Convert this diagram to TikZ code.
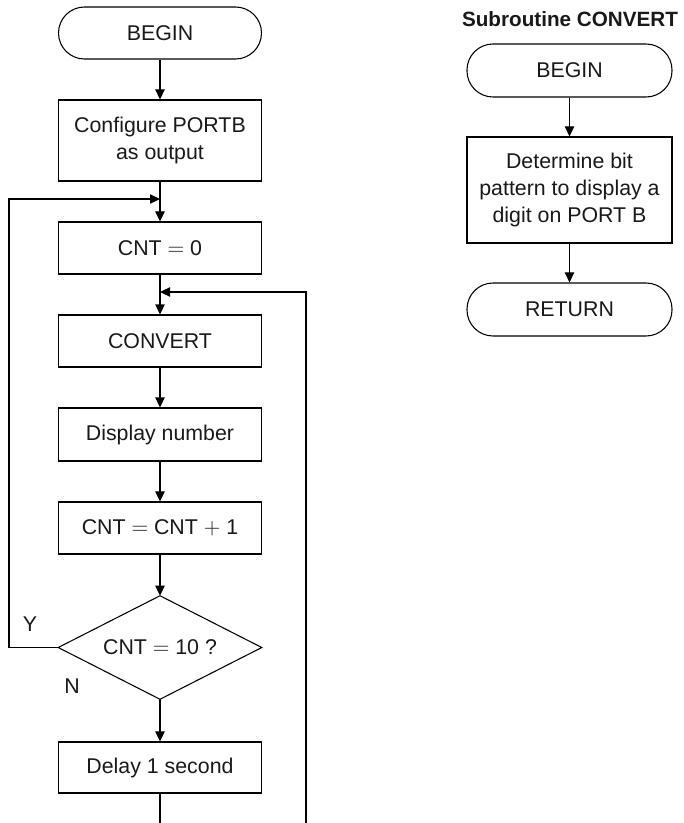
\documentclass[tikz,border=0pt]{standalone}
\usepackage{fontspec}
\setmainfont{Liberation Sans}
\usetikzlibrary{arrows.meta}
\begin{document}
\begin{tikzpicture}[x=0.75pt,y=-0.75pt,
  every node/.style={font=\fontsize{16}{20}\selectfont, text=black!90},
  term/.style={draw, line width=0.8pt, rounded corners=19.5pt, minimum width=152.25pt, minimum height=39pt, inner sep=0pt},
  proc/.style={draw, line width=0.8pt, minimum width=152.25pt, inner sep=0pt, align=center},
  flow/.style={line width=0.8pt, -{Triangle[length=7.5pt,width=7pt]}},
  plain/.style={line width=0.8pt}
]
\useasboundingbox (0,0) rectangle (684,823);
% main flow
\node[term] (begin) at (160,33) {BEGIN};
\node[proc, minimum height=60.75pt] (config) at (160,140.5) {Configure PORTB\\as output};
\node[proc, minimum height=39pt] (cnt0) at (160,248) {CNT $=$ 0};
\node[proc, minimum height=39pt] (convert) at (160,341) {CONVERT};
\node[proc, minimum height=39.75pt] (display) at (160,434.5) {Display number};
\node[proc, minimum height=39pt] (inc) at (160,528) {CNT $=$ CNT $+$ 1};
\node[minimum width=152.25pt, minimum height=77.25pt, inner sep=0pt] (dec) at (160,647.5) {CNT $=$ 10 ?};
\draw[plain] (dec.north) -- (dec.east) -- (dec.south) -- (dec.west) -- cycle;
\node[proc, minimum height=38.25pt] (delay) at (160,767.5) {Delay 1 second};
\node (ylab) at (30,624) {Y};
\node (nlab) at (72,686) {N};
\coordinate (m1) at (160,199);
\coordinate (m2) at (160,292);
\coordinate (bot) at (160,823);
\coordinate (botr) at (306,823);
\coordinate (lx) at (9,647.5);

\draw[flow] (begin) -- (config);
\draw[flow] (config) -- (cnt0);
\draw[flow] (cnt0) -- (convert);
\draw[flow] (convert) -- (display);
\draw[flow] (display) -- (inc);
\draw[flow] (inc) -- (dec.north);
\draw[flow] (dec.south) -- (delay);
\draw[plain] (delay) -- (bot);
\draw[flow] (dec.west) -- (lx) |- (m1);
\draw[flow] (botr) |- (m2);

% subroutine
\node[font=\fontsize{15.5}{18}\selectfont\bfseries] (title) at (570,19) {Subroutine CONVERT};
\node[term, minimum width=153.75pt, minimum height=39.75pt] (sbegin) at (569.5,70.5) {BEGIN};
\node[proc, minimum width=153.75pt, minimum height=79.5pt] (det) at (569.5,190) {Determine bit\\pattern to display a\\digit on PORT B};
\node[term, minimum width=153.75pt, minimum height=39.75pt] (ret) at (569.5,309.5) {RETURN};
\draw[flow] (sbegin) -- (det);
\draw[flow] (det) -- (ret);
\end{tikzpicture}
\end{document}
